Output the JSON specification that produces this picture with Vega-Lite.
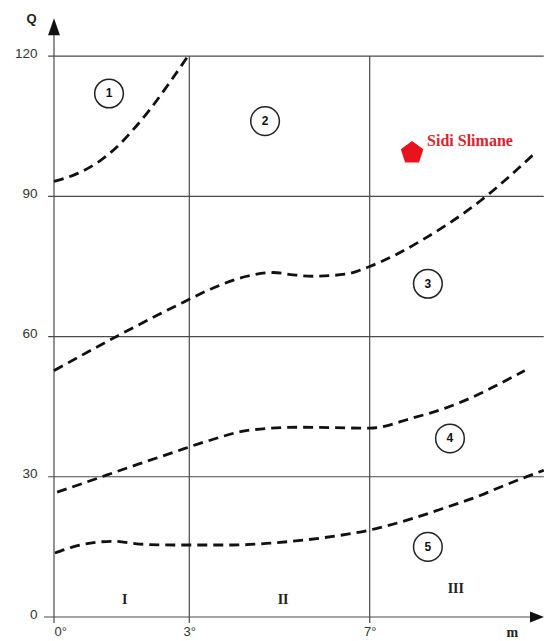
{
  "$schema": "https://vega.github.io/schema/vega-lite/v6.json",
  "width": 490,
  "height": 617,
  "autosize": "none",
  "padding": {"left": 54, "top": 0, "right": 0, "bottom": 24},
  "background": "white",
  "config": {"view": {"stroke": null}},
  "datasets": {
    "curves": [
      {"curve": "1", "m": 0, "q": 93.2},
      {"curve": "1", "m": 0.5, "q": 94.8},
      {"curve": "1", "m": 1.02, "q": 97.6},
      {"curve": "1", "m": 1.4, "q": 100.6},
      {"curve": "1", "m": 1.75, "q": 104.2},
      {"curve": "1", "m": 2.13, "q": 108.6},
      {"curve": "1", "m": 2.51, "q": 113.6},
      {"curve": "1", "m": 2.97, "q": 120.0},
      {"curve": "2", "m": 0, "q": 52.7},
      {"curve": "2", "m": 1.46, "q": 60.4},
      {"curve": "2", "m": 2.86, "q": 67.3},
      {"curve": "2", "m": 3.53, "q": 70.4},
      {"curve": "2", "m": 4.28, "q": 72.9},
      {"curve": "2", "m": 4.86, "q": 73.7},
      {"curve": "2", "m": 5.3, "q": 73.2},
      {"curve": "2", "m": 5.74, "q": 72.9},
      {"curve": "2", "m": 6.5, "q": 73.4},
      {"curve": "2", "m": 7.0, "q": 75.0},
      {"curve": "2", "m": 7.6, "q": 77.6},
      {"curve": "2", "m": 8.12, "q": 80.4},
      {"curve": "2", "m": 9.45, "q": 89.0},
      {"curve": "2", "m": 10.67, "q": 99.3},
      {"curve": "3", "m": 0.07, "q": 26.7},
      {"curve": "3", "m": 1.18, "q": 30.4},
      {"curve": "3", "m": 1.9, "q": 32.8},
      {"curve": "3", "m": 2.64, "q": 35.2},
      {"curve": "3", "m": 3.39, "q": 37.6},
      {"curve": "3", "m": 4.35, "q": 40.0},
      {"curve": "3", "m": 5.45, "q": 40.6},
      {"curve": "3", "m": 7.0, "q": 40.4},
      {"curve": "3", "m": 7.96, "q": 42.6},
      {"curve": "3", "m": 8.71, "q": 44.8},
      {"curve": "3", "m": 9.45, "q": 47.8},
      {"curve": "3", "m": 9.82, "q": 49.6},
      {"curve": "3", "m": 10.44, "q": 52.7},
      {"curve": "4", "m": 0.02, "q": 13.7},
      {"curve": "4", "m": 0.42, "q": 15.0},
      {"curve": "4", "m": 1.31, "q": 16.2},
      {"curve": "4", "m": 1.9, "q": 15.6},
      {"curve": "4", "m": 2.64, "q": 15.4},
      {"curve": "4", "m": 3.97, "q": 15.4},
      {"curve": "4", "m": 4.79, "q": 15.8},
      {"curve": "4", "m": 6.0, "q": 17.0},
      {"curve": "4", "m": 7.0, "q": 18.6},
      {"curve": "4", "m": 7.96, "q": 21.1},
      {"curve": "4", "m": 8.71, "q": 23.5},
      {"curve": "4", "m": 9.45, "q": 26.0},
      {"curve": "4", "m": 9.82, "q": 27.5},
      {"curve": "4", "m": 10.86, "q": 31.4}
    ],
    "hlines": [
      {"q": 30, "m": -0.13, "m2": 10.86},
      {"q": 60, "m": -0.13, "m2": 10.86},
      {"q": 90, "m": -0.13, "m2": 10.86},
      {"q": 120, "m": -0.13, "m2": 10.86},
      {"q": 0, "m": -0.22, "m2": 10.6}
    ],
    "vlines": [
      {"m": 0, "q": -1.3, "q2": 124.5},
      {"m": 3, "q": -1.3, "q2": 120},
      {"m": 7, "q": -1.3, "q2": 120}
    ],
    "circles": [
      {"label": "1", "m": 1.22, "q": 112.0},
      {"label": "2", "m": 4.68, "q": 106.1},
      {"label": "3", "m": 8.29, "q": 71.3},
      {"label": "4", "m": 8.78, "q": 38.2},
      {"label": "5", "m": 8.29, "q": 15.0}
    ],
    "zones": [
      {"label": "I", "m": 1.57, "q": 3.6},
      {"label": "II", "m": 5.08, "q": 3.6},
      {"label": "III", "m": 8.91, "q": 5.9}
    ],
    "station": [{"name": "Sidi Slimane", "m": 7.94, "q": 99.3}]
  },
  "encoding": {
    "x": {
      "field": "m",
      "type": "quantitative",
      "scale": {"domain": [0, 10.865], "nice": false, "zero": false},
      "axis": {
        "values": [0, 3, 7],
        "labelExpr": "datum.value + '°'",
        "grid": false,
        "domain": false,
        "ticks": false,
        "labelPadding": 8,
        "labelFont": "Liberation Sans",
        "labelFontSize": 13,
        "labelColor": "#333",
        "title": null
      }
    },
    "y": {
      "field": "q",
      "type": "quantitative",
      "scale": {"domain": [0, 132], "nice": false, "zero": false},
      "axis": {
        "values": [0, 30, 60, 90, 120],
        "grid": false,
        "domain": false,
        "ticks": false,
        "labelPadding": 17,
        "labelFont": "Liberation Sans",
        "labelFontSize": 13.5,
        "labelColor": "#333",
        "labelBaseline": "middle",
        "labelOffset": -3,
        "title": null
      }
    }
  },
  "layer": [
    {
      "data": {"name": "hlines"},
      "mark": {"type": "rule", "color": "#4a4a4a", "strokeWidth": 1.2},
      "encoding": {"x2": {"field": "m2"}}
    },
    {
      "data": {"name": "vlines"},
      "mark": {"type": "rule", "color": "#4a4a4a", "strokeWidth": 1.2},
      "encoding": {"y2": {"field": "q2"}}
    },
    {
      "data": {"values": [{"m": 0, "q": 126.3}]},
      "mark": {"type": "point", "shape": "M0,-1L0.7,1L-0.7,1Z", "size": 289, "filled": true, "color": "#111", "opacity": 1}
    },
    {
      "data": {"values": [{"m": 10.71, "q": 0}]},
      "mark": {"type": "point", "shape": "M1,0L-1,0.8L-1,-0.8Z", "size": 196, "filled": true, "color": "#111", "opacity": 1}
    },
    {
      "data": {"name": "curves"},
      "mark": {"type": "line", "color": "#111", "strokeWidth": 2.8, "strokeDash": [10, 6], "interpolate": "monotone"},
      "encoding": {"detail": {"field": "curve"}}
    },
    {
      "data": {"name": "circles"},
      "mark": {"type": "point", "shape": "circle", "size": 820, "filled": false, "stroke": "#222", "strokeWidth": 1.5, "opacity": 1}
    },
    {
      "data": {"name": "circles"},
      "mark": {"type": "text", "font": "Liberation Sans", "fontWeight": "bold", "fontSize": 12, "color": "#111"},
      "encoding": {"text": {"field": "label"}}
    },
    {
      "data": {"name": "zones"},
      "mark": {"type": "text", "font": "Liberation Serif", "fontWeight": "bold", "fontSize": 14, "color": "#222"},
      "encoding": {"text": {"field": "label"}}
    },
    {
      "data": {"name": "station"},
      "mark": {"type": "point", "shape": "M0,-1L0.951,-0.309L0.588,0.809L-0.588,0.809L-0.951,-0.309Z", "size": 560, "filled": true, "color": "#e8131d", "opacity": 1}
    },
    {
      "data": {"name": "station"},
      "mark": {"type": "text", "align": "left", "dx": 15, "dy": -12, "font": "Liberation Serif", "fontWeight": "bold", "fontSize": 16, "color": "#d9232e"},
      "encoding": {"text": {"field": "name"}}
    },
    {
      "data": {"values": [{"t": "Q", "m": -0.5, "q": 128}]},
      "mark": {"type": "text", "font": "Liberation Sans", "fontWeight": "bold", "fontSize": 13, "color": "#222"},
      "encoding": {"text": {"field": "t"}}
    },
    {
      "data": {"values": [{"t": "m", "m": 10.16, "q": -3.4}]},
      "mark": {"type": "text", "font": "Liberation Serif", "fontWeight": "bold", "fontSize": 14, "color": "#222"},
      "encoding": {"text": {"field": "t"}}
    }
  ]
}
